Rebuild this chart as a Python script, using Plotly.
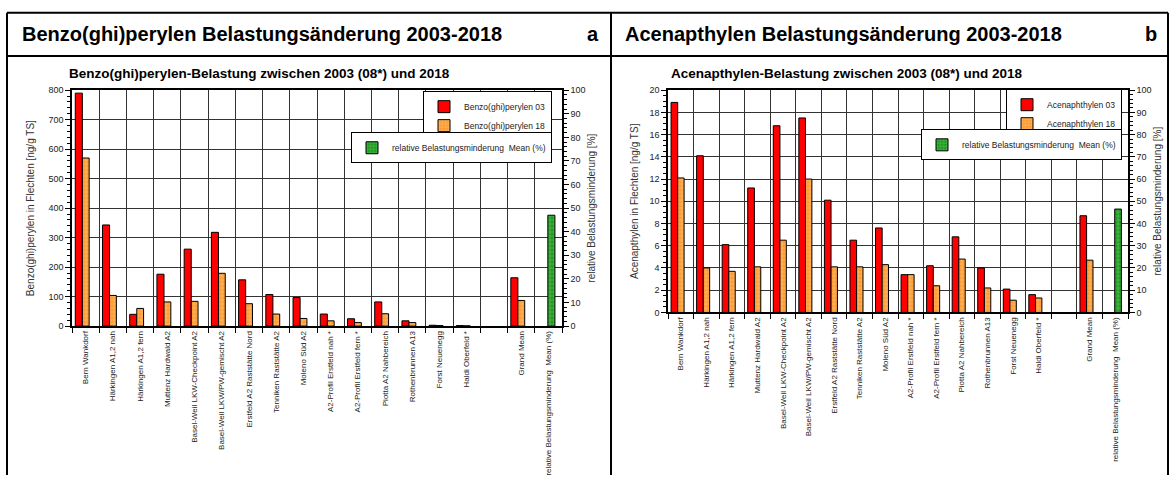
import plotly.graph_objects as go

# ---------------- data ----------------
sites = ["Bern Wankdorf", "Härkingen A1,2 nah", "Härkingen A1,2 fern", "Muttenz Hardwald A2",
         "Basel-Weil LKW-Checkpoint A2", "Basel-Weil LKW/PW-gemischt A2", "Erstfeld A2 Raststätte Nord",
         "Tenniken Raststätte A2", "Moleno Süd A2", "A2-Profil Erstfeld nah *", "A2-Profil Erstfeld fern *",
         "Piotta A2 Nahbereich", "Rothenbrunnen A13", "Forst Neuenegg", "Haldi Oberfeld *", "",
         "Grand Mean", "relative Belastungsminderung  Mean (%)"]

bghi_03 = [790, 343, 40, 176, 261, 318, 157, 107, 97, 41, 25, 82, 18, 3, 2, None, 164, None]
bghi_18 = [570, 104, 60, 82, 84, 179, 76, 41, 26, 18, 12, 42, 12, 2, 1, None, 87, None]
bghi_rel = [None] * 17 + [47]

acy_03 = [18.9, 14.1, 6.1, 11.2, 16.8, 17.5, 10.1, 6.5, 7.6, 3.4, 4.2, 6.8, 4.0, 2.1, 1.6, None, 8.7, None]
acy_18 = [12.1, 4.0, 3.7, 4.1, 6.5, 12.0, 4.1, 4.1, 4.3, 3.4, 2.4, 4.8, 2.2, 1.1, 1.3, None, 4.7, None]
acy_rel = [None] * 17 + [46.5]

header_a = "Benzo(ghi)perylen Belastungsänderung 2003-2018"
header_b = "Acenapthylen Belastungsänderung 2003-2018"
sub_a = "Benzo(ghi)perylen-Belastung zwischen 2003 (08*) und 2018"
sub_b = "Acenapthylen-Belastung zwischen 2003 (08*) und 2018"
ytitle_a = "Benzo(ghi)perylen in Flechten [ng/g TS]"
ytitle_b = "Acenapthylen in Flechten [ng/g TS]"
y2title = "relative Belastungsminderung [%]"
names_a = ["Benzo(ghi)perylen 03", "Benzo(ghi)perylen 18"]
names_b = ["Acenaphthylen 03", "Acenaphthylen 18"]
name_rel = "relative Belastungsminderung  Mean (%)"

# ---------------- style ----------------
W, H = 1173, 477
FONT = "Liberation Sans Narrow, Arial Narrow, Liberation Sans, Arial, sans-serif"
RED = "#ff0000"
ORANGE = "#ff9a2e"
GREEN = "#1e9a1e"
GRID = "#333333"

xpos = list(range(len(sites)))


def px_x(p):
    return p / W


def px_y(p):
    return 1 - p / H


fig = go.Figure()


def add_bars(xa, ya, ya2, v03, v18, vrel, names, lg1, lg2):
    fig.add_trace(go.Bar(x=xpos, y=v03, name=names[0], xaxis=xa, yaxis=ya,
                         offset=-0.38, width=0.26,
                         marker=dict(color=RED, line=dict(color="black", width=1)),
                         legend=lg1))
    fig.add_trace(go.Bar(x=xpos, y=v18, name=names[1], xaxis=xa, yaxis=ya,
                         offset=-0.12, width=0.25,
                         marker=dict(color=ORANGE, line=dict(color="black", width=1),
                                     pattern=dict(shape="+", fgcolor="#ffe6c8", bgcolor=ORANGE,
                                                  size=4, solidity=0.3)),
                         legend=lg1))
    fig.add_trace(go.Bar(x=xpos, y=vrel, name=name_rel, xaxis=xa, yaxis=ya2,
                         offset=-0.02, width=0.26,
                         marker=dict(color=GREEN, line=dict(color="black", width=1),
                                     pattern=dict(shape="+", fgcolor="#9be39b", bgcolor=GREEN,
                                                  size=4, solidity=0.3)),
                         legend=lg2))


add_bars("x", "y", "y2", bghi_03, bghi_18, bghi_rel, names_a, "legend", "legend2")
add_bars("x2", "y3", "y4", acy_03, acy_18, acy_rel, names_b, "legend3", "legend4")

tickfont = dict(family=FONT, size=9, color="#222")
catfont = dict(family=FONT, size=8, color="#222")
titlefont = dict(family=FONT, size=10, color="#333")
minor_x = [i - 0.5 for i in range(len(sites) + 1)]


def xaxis(domain, anchor):
    return dict(domain=domain, anchor=anchor, range=[-0.5, len(sites) - 0.5],
                tickmode="array", tickvals=xpos, ticktext=sites, tickangle=-90,
                ticks="", showgrid=False, zeroline=False, tickfont=catfont,
                showline=True, linecolor="black", linewidth=1.5, mirror=True,
                minor=dict(tickmode="array", tickvals=minor_x, ticks="outside", ticklen=5,
                           tickcolor="black", showgrid=True, gridcolor=GRID, gridwidth=1.3))


def yaxis(domain, anchor, rng, dtick, mdtick, title, standoff, side="left", overlaying=None):
    d = dict(domain=domain, anchor=anchor, range=rng, dtick=dtick, side=side,
             ticks="outside", ticklen=5, tickcolor="black", tickfont=tickfont,
             showline=True, linecolor="black", linewidth=1.5, zeroline=False,
             title=dict(text=title, font=titlefont, standoff=standoff),
             minor=dict(dtick=mdtick, ticks="outside", ticklen=3, tickcolor="black", showgrid=False))
    if overlaying:
        d.update(overlaying=overlaying, showgrid=False)
    else:
        d.update(showgrid=True, gridcolor=GRID, gridwidth=1.3)
    return d


dom_xa = [px_x(72), px_x(562)]
dom_xb = [px_x(668), px_x(1128)]
dom_ya = [px_y(328), px_y(87)]
dom_yb = [px_y(314), px_y(87)]

leg_common = dict(bgcolor="white", bordercolor="black", borderwidth=1,
                  font=dict(family=FONT, size=8.5, color="#222"),
                  xanchor="right", yanchor="top", itemwidth=30, tracegroupgap=2)

fig.update_layout(
    width=W, height=H, margin=dict(l=0, r=0, t=0, b=0),
    paper_bgcolor="white", plot_bgcolor="white",
    barmode="overlay", showlegend=True,
    xaxis=xaxis(dom_xa, "y"),
    xaxis2=xaxis(dom_xb, "y3"),
    yaxis=yaxis(dom_ya, "x", [0, 800], 100, 20, ytitle_a, 12),
    yaxis2=yaxis(dom_ya, "x", [0, 100], 10, 2, y2title, 3, side="right", overlaying="y"),
    yaxis3=yaxis(dom_yb, "x2", [0, 20], 2, 0.5, ytitle_b, 9),
    yaxis4=yaxis(dom_yb, "x2", [0, 100], 10, 2, y2title, 3, side="right", overlaying="y3"),
    legend=dict(leg_common, x=px_x(552), y=px_y(88)),
    legend2=dict(leg_common, x=px_x(552), y=px_y(130)),
    legend3=dict(leg_common, x=px_x(1122), y=px_y(86)),
    legend4=dict(leg_common, x=px_x(1122), y=px_y(127)),
)

# frame lines (table layout around the two panels)
line = dict(color="black", width=2)
for x0, y0, x1, y1 in [(7, 8, 1168, 8), (7, 52, 1168, 52), (7, 8, 7, 480),
                       (611, 8, 611, 480), (1168, 8, 1168, 480)]:
    fig.add_shape(type="line", xref="paper", yref="paper", x0=px_x(x0), y0=px_y(y0),
                  x1=px_x(x1), y1=px_y(y1), line=line)

hfont = dict(family=FONT, size=20, color="black", weight="bold")
sfont = dict(family=FONT, size=13.5, color="black", weight="bold")
for txt, x, y, f, xa in [(header_a, 20, 30, hfont, "left"), ("a", 593, 30, hfont, "center"),
                         (header_b, 623, 30, hfont, "left"), ("b", 1151, 30, hfont, "center"),
                         (sub_a, 67, 70, sfont, "left"), (sub_b, 669, 70, sfont, "left")]:
    fig.add_annotation(text=txt, xref="paper", yref="paper", x=px_x(x), y=px_y(y),
                       xanchor=xa, yanchor="middle", showarrow=False, font=f)

fig.write_html("out.html", config={"displayModeBar": False})

# remove the default page margin so the figure sits at the window's top-left corner
with open("out.html", encoding="utf-8") as fh:
    html = fh.read()
html = html.replace("<head>", "<head><style>html,body{margin:0;padding:0;overflow:hidden;}</style>", 1)
with open("out.html", "w", encoding="utf-8") as fh:
    fh.write(html)
